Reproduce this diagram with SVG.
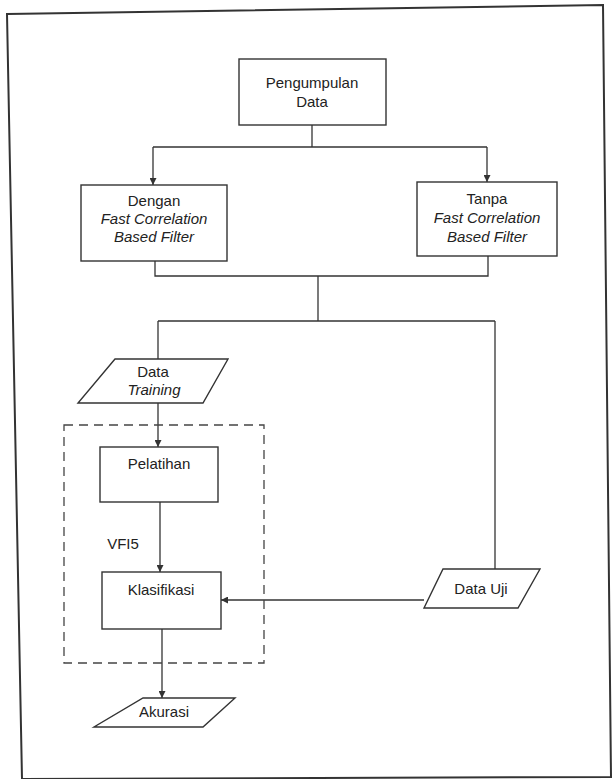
<svg xmlns="http://www.w3.org/2000/svg" width="612" height="779" viewBox="0 0 612 779">
<defs>
<style>
.box{fill:#fff;stroke:#333;stroke-width:1.4}
.ln{fill:none;stroke:#333;stroke-width:1.3}
.dash{fill:none;stroke:#444;stroke-width:1.3;stroke-dasharray:9 6}
.t{font-family:"Liberation Sans",Arial,sans-serif;font-size:15px;fill:#222;text-anchor:middle}
.i{font-style:italic}
</style>
<marker id="arr" viewBox="0 0 10 10" refX="10" refY="5" markerWidth="7" markerHeight="7" orient="auto" markerUnits="userSpaceOnUse">
<path d="M0,0 L10,5 L0,10 z" fill="#333"/>
</marker>
</defs>
<rect width="612" height="779" fill="#fff"/>
<polygon points="7,14 603,5 611,777 22,779" fill="none" stroke="#333" stroke-width="2"/>

<g id="connectors">
<polyline class="ln" points="312,125 312,147"/>
<polyline class="ln" points="153,147 487,147"/>
<line class="ln" x1="153" y1="147" x2="153" y2="185" marker-end="url(#arr)"/>
<line class="ln" x1="487" y1="147" x2="487" y2="182" marker-end="url(#arr)"/>
<polyline class="ln" points="155,261 155,276 488,276 488,256"/>
<polyline class="ln" points="318,276 318,321"/>
<polyline class="ln" points="158,321 495,321"/>
<line class="ln" x1="158" y1="321" x2="158" y2="359"/>
<line class="ln" x1="495" y1="321" x2="495" y2="569"/>
<line class="ln" x1="158" y1="403" x2="158" y2="447" marker-end="url(#arr)"/>
<line class="ln" x1="160" y1="502" x2="160" y2="572" marker-end="url(#arr)"/>
<line class="ln" x1="424" y1="600" x2="221" y2="600" marker-end="url(#arr)"/>
<line class="ln" x1="162" y1="629" x2="162" y2="698" marker-end="url(#arr)"/>
</g>

<g id="vfi5-group">
<rect class="dash" x="64" y="425" width="200" height="238"/>
<text class="t" x="123" y="549">VFI5</text>
</g>

<g id="pengumpulan">
<rect class="box" x="239" y="59" width="147" height="66"/>
<text class="t" x="312" y="88">Pengumpulan</text>
<text class="t" x="312" y="107">Data</text>
</g>

<g id="dengan">
<rect class="box" x="81" y="185" width="146" height="76"/>
<text class="t" x="154" y="206">Dengan</text>
<text class="t i" x="154" y="224">Fast Correlation</text>
<text class="t i" x="154" y="242">Based Filter</text>
</g>

<g id="tanpa">
<rect class="box" x="417" y="182" width="140" height="74"/>
<text class="t" x="487" y="204">Tanpa</text>
<text class="t i" x="487" y="223">Fast Correlation</text>
<text class="t i" x="487" y="242">Based Filter</text>
</g>

<g id="data-training">
<polygon class="box" points="115,359 228,359 203,403 78,403"/>
<text class="t" x="153" y="377">Data</text>
<text class="t i" x="154" y="395">Training</text>
</g>

<g id="pelatihan">
<rect class="box" x="100" y="447" width="118" height="55"/>
<text class="t" x="159" y="469">Pelatihan</text>
</g>

<g id="klasifikasi">
<rect class="box" x="102" y="572" width="119" height="57"/>
<text class="t" x="161" y="595">Klasifikasi</text>
</g>

<g id="data-uji">
<polygon class="box" points="443,569 540,569 518,608 424,608"/>
<text class="t" x="481" y="594">Data Uji</text>
</g>

<g id="akurasi">
<polygon class="box" points="143,698 235,698 203,727 94,727"/>
<text class="t" x="164" y="717">Akurasi</text>
</g>
</svg>
